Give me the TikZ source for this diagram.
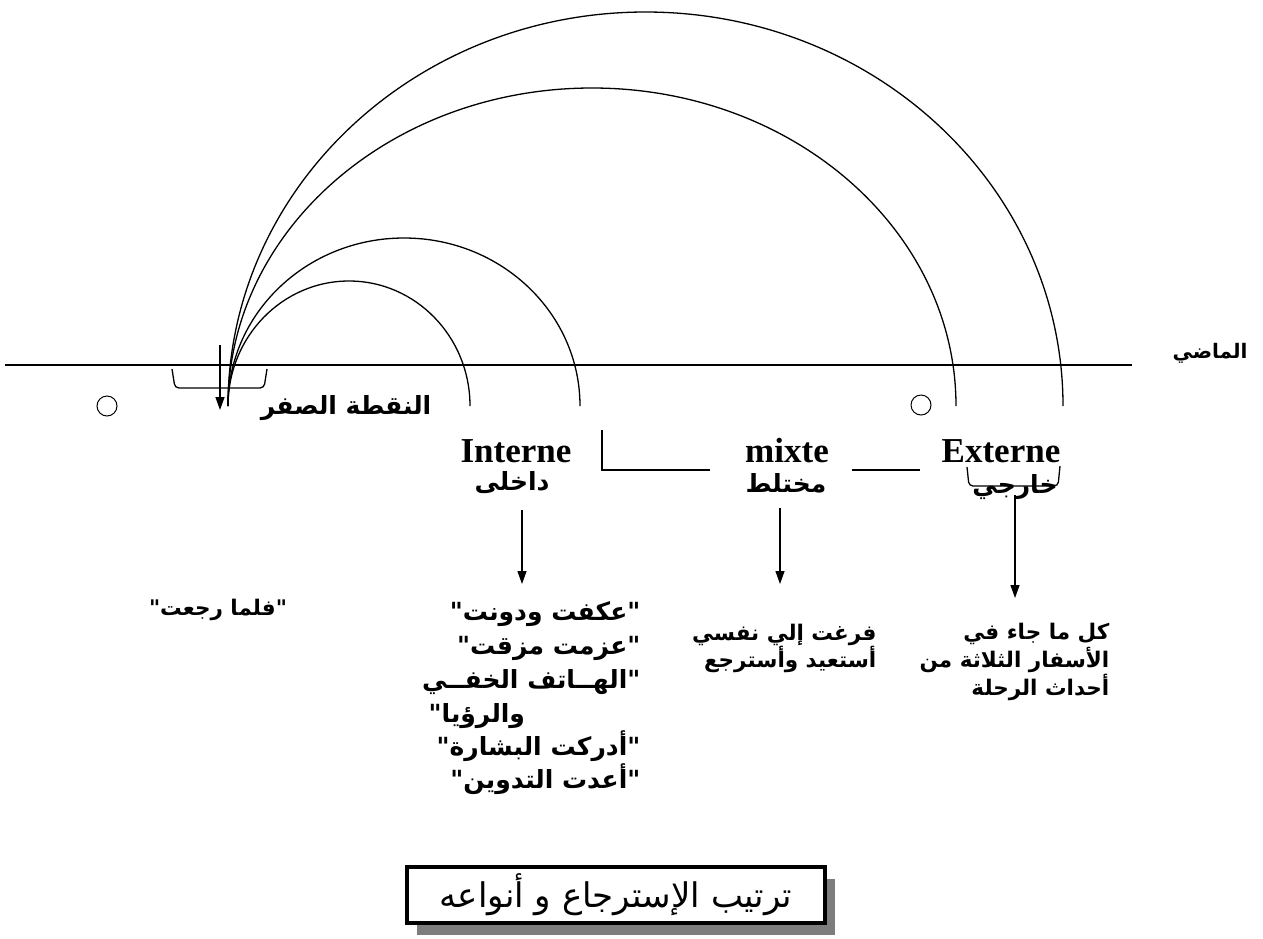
\documentclass[tikz,border=0pt]{standalone}
\usepackage{fontspec}
\setmainfont{Liberation Serif}
\newfontfamily\arabicfont[Script=Arabic]{DejaVu Sans}
\TeXXeTstate=1
\usepackage{xcolor}
\usepackage{tikz}
\usetikzlibrary{arrows.meta,positioning,shadows}
\definecolor{shadegray}{RGB}{125,125,125}
\newcommand{\rtl}[1]{\beginR #1\endR}

\begin{document}
\begin{tikzpicture}[x=1pt,y=-1pt,>={Triangle[length=13pt,width=9pt]},line width=1.3pt,
  artxt/.style={font=\arabicfont\bfseries\fontsize{21.5}{26}\selectfont,inner sep=0pt},
  artbig/.style={artxt,font=\arabicfont\bfseries\fontsize{25}{30}\selectfont},
  kind/.style={font=\bfseries\fontsize{35}{40}\selectfont,inner sep=0pt},
  refdot/.style={circle,draw,line width=1pt,minimum size=20pt,inner sep=0pt}]
  \useasboundingbox (0,0) rectangle (1263,938);
  % time axis
  \coordinate (axisL) at (5,365);
  \coordinate (axisR) at (1132,365);
  \draw (axisL) -- (axisR);
  \node[artxt,anchor=west,font=\arabicfont\bfseries\fontsize{20}{24}\selectfont] (past) at (1172,353) {\rtl{الماضي}};
  % zero point and the four arcs
  \coordinate (zero) at (228,406);
  \foreach \rx/\ry in {121/125,176/168,364/318,417.5/394}
    \draw (zero) arc[start angle=180,end angle=360,x radius=\rx,y radius=\ry];
  \coordinate (zTop) at (220,345);
  \coordinate (zTip) at (220,410);
  \draw[->] (zTop) -- (zTip);
  \draw[rounded corners=4pt] (172,369) -- (175,388) -- (264,388) -- (267,369);
  \node[artbig,anchor=east] (zerolbl) at (432,408) {\rtl{النقطة الصفر}};
  \node[refdot] (dotL) at (107,406) {};
  \node[refdot] (dotR) at (921,405) {};
  % the three kinds
  \node[kind] (intlbl) at (516,451) {Interne};
  \node[artbig] (intar) at (512,483) {\rtl{داخلى}};
  \node[kind] (mixlbl) at (787,451) {mixte};
  \node[artbig] (mixar) at (786,483) {\rtl{مختلط}};
  \node[kind] (extlbl) at (1001,451) {Externe};
  \node[artbig] (extar) at (1015,487) {\rtl{خارجي}};
  \draw (602,430) -- (602,470) -- (710,470);
  \draw (852,470) -- (920,470);
  \draw[rounded corners=4pt] (967,467) -- (969,486) -- (1058,486) -- (1060,466);
  \coordinate (intA) at (522,510);
  \coordinate (intB) at (522,584);
  \coordinate (mixA) at (780,508);
  \coordinate (mixB) at (780,584);
  \coordinate (extA) at (1015,495);
  \coordinate (extB) at (1015,598);
  \draw[->] (intA) -- (intB);
  \draw[->] (mixA) -- (mixB);
  \draw[->] (extA) -- (extB);
  % examples
  \node[artxt,anchor=base] (backtxt) at (218,615) {\rtl{"فلما رجعت"}};
  \node[artbig,anchor=base east] (int1) at (641,620) {\rtl{"عكفت ودونت"}};
  \node[artbig,anchor=base east] (int2) at (641,654) {\rtl{"عزمت مزقت"}};
  \node[artbig,anchor=base east] (int3) at (641,688) {\rtl{"الهــاتف الخفــي}};
  \node[artbig,anchor=base west] (int4) at (428,722) {\rtl{والرؤيا"}};
  \node[artbig,anchor=base east] (int5) at (641,755) {\rtl{"أدركت البشارة"}};
  \node[artbig,anchor=base east] (int6) at (641,788) {\rtl{"أعدت التدوين"}};
  \node[artxt,anchor=base east] (mix1) at (877,640) {\rtl{فرغت إلي نفسي}};
  \node[artxt,anchor=base east] (mix2) at (877,667) {\rtl{أستعيد وأسترجع}};
  \node[artxt,anchor=base east] (ext1) at (1110,639) {\rtl{كل ما جاء في}};
  \node[artxt,anchor=base east] (ext2) at (1110,667) {\rtl{الأسفار الثلاثة من}};
  \node[artxt,anchor=base east] (ext3) at (1110,695) {\rtl{أحداث الرحلة}};
  % title box
  \node[draw,line width=4pt,fill=white,minimum width=418pt,minimum height=56pt,
    drop shadow={shadow xshift=10pt,shadow yshift=-12pt,fill=shadegray,opacity=1},
    font=\arabicfont\fontsize{34}{40}\selectfont] (title) at (616,895) {\rtl{ترتيب الإسترجاع و أنواعه}};
\end{tikzpicture}
\end{document}
